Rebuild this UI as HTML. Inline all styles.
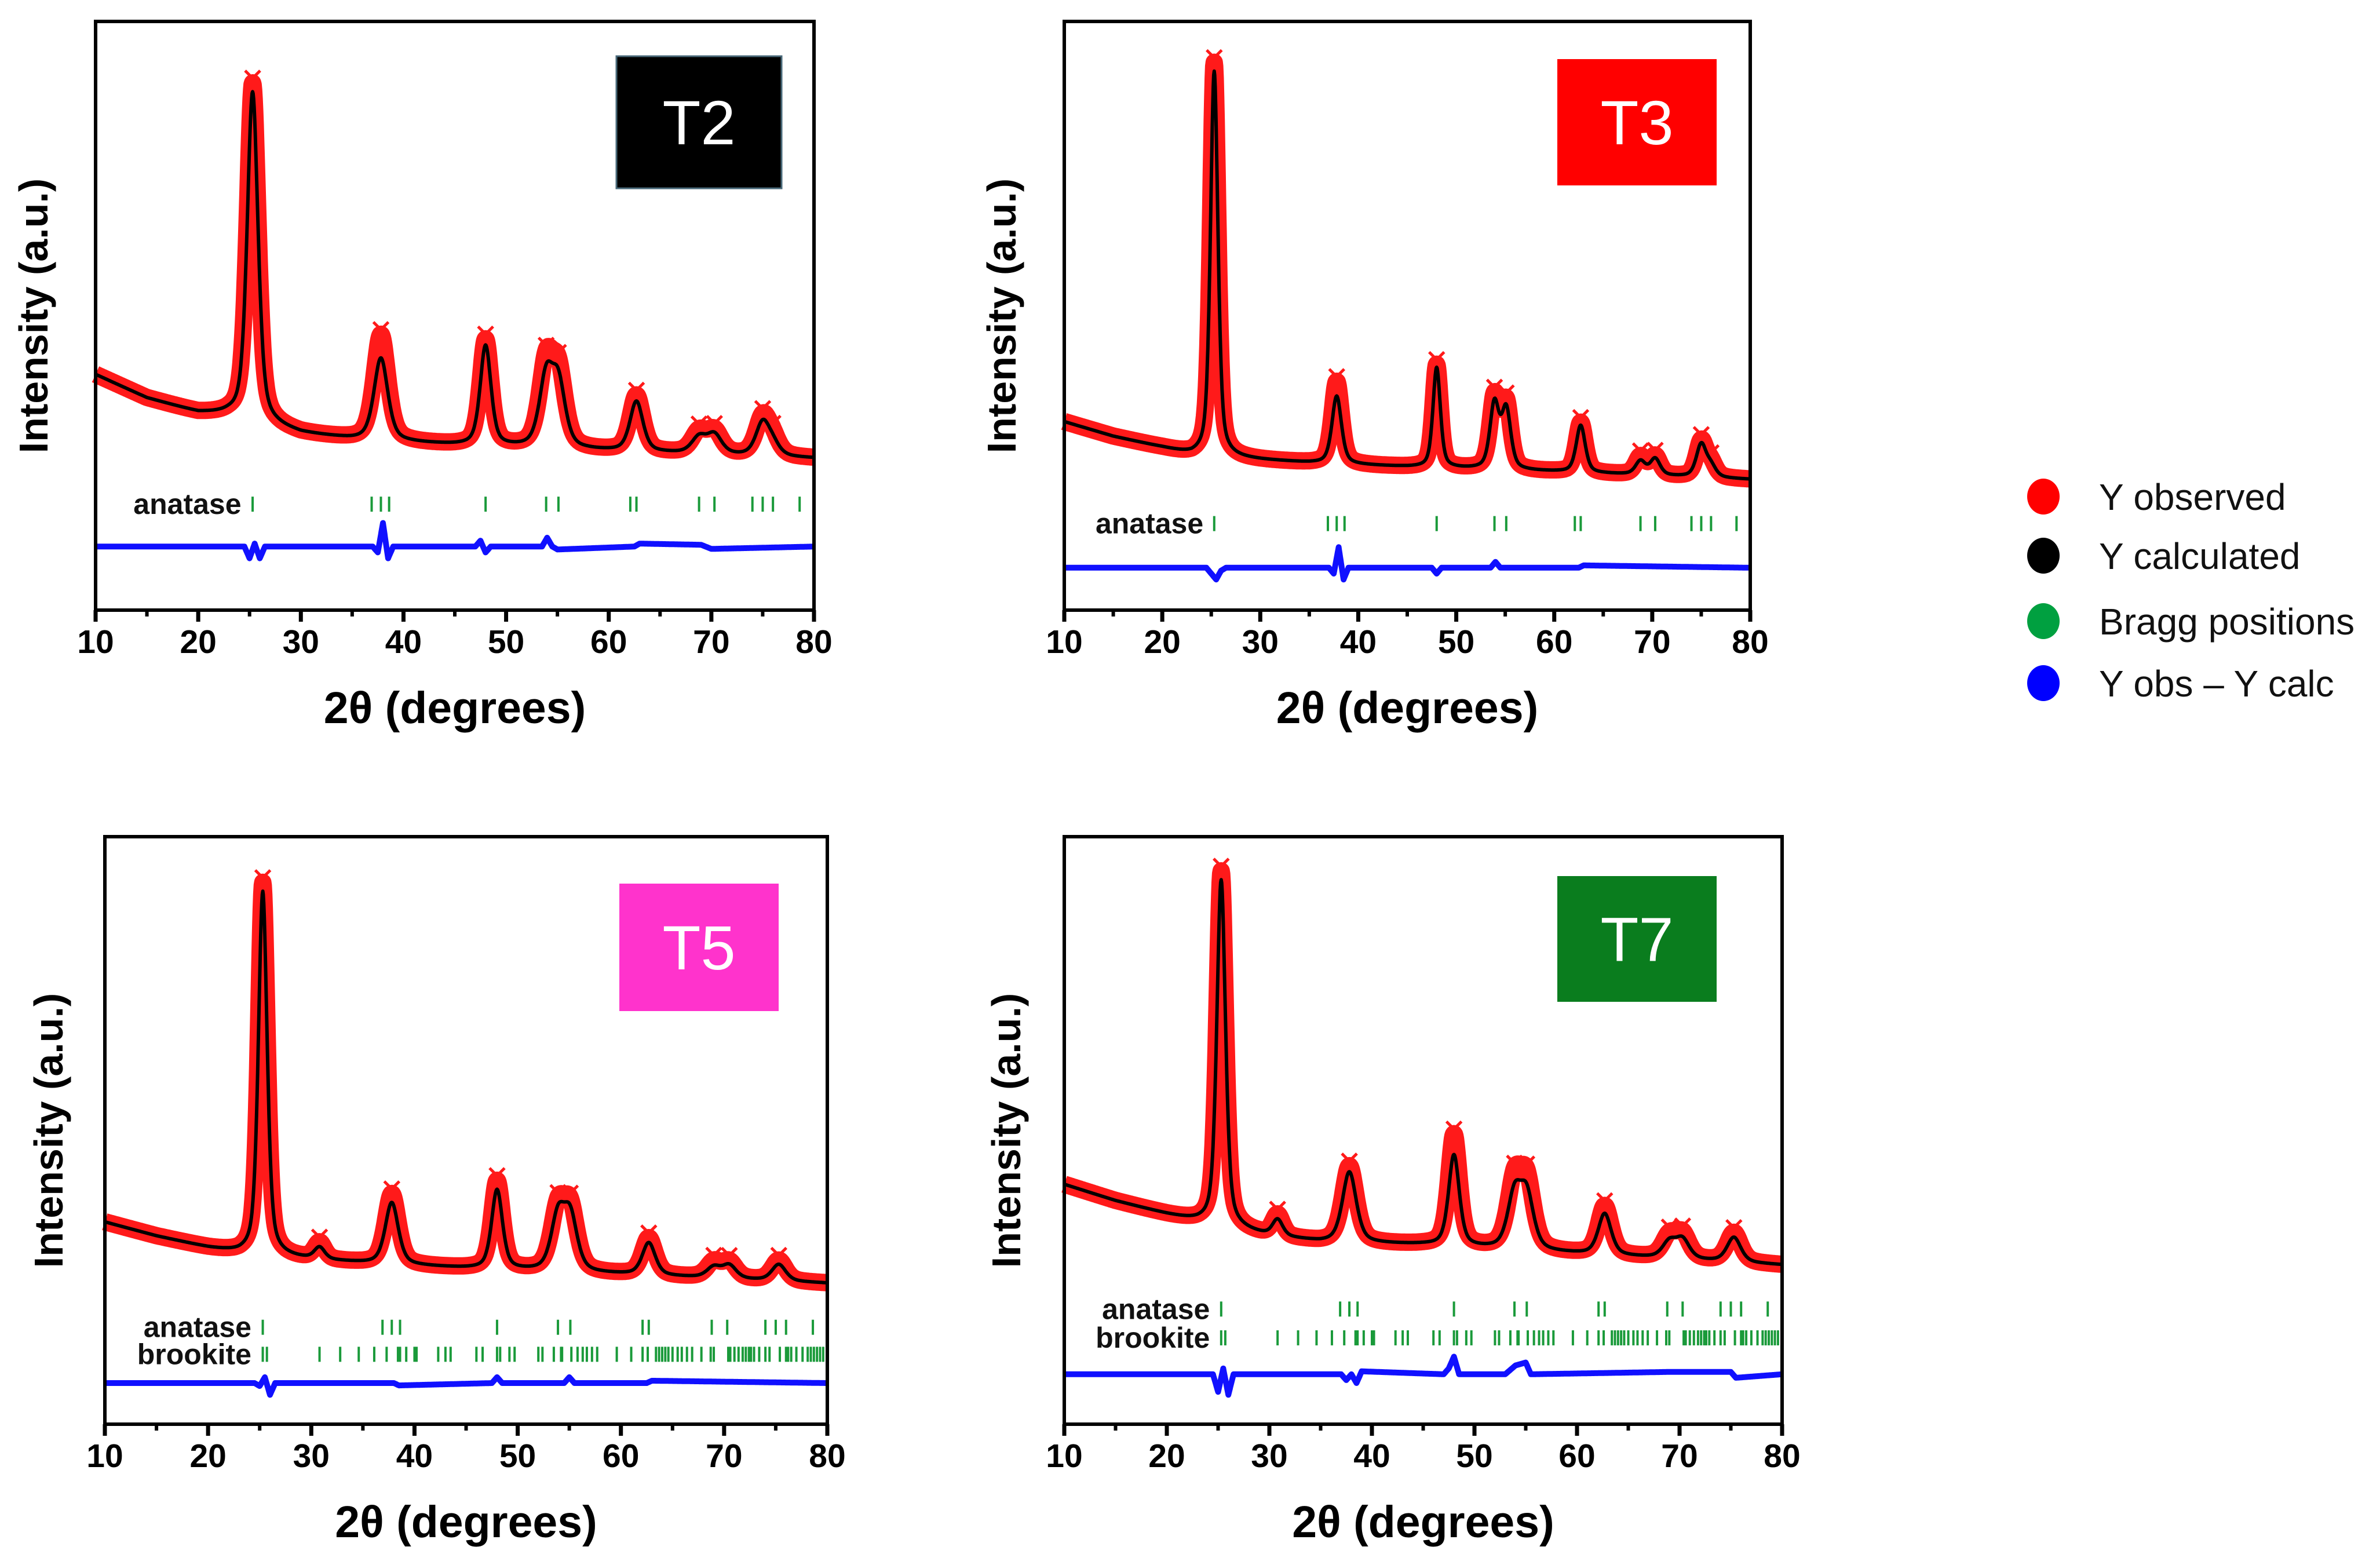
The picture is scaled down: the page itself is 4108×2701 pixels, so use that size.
<!DOCTYPE html>
<html><head><meta charset="utf-8"><style>
html,body{margin:0;padding:0;background:#fff}
svg{display:block}
text{font-family:"Liberation Sans",Arial,sans-serif}
</style></head><body>
<svg id="fig" width="4108" height="2701" viewBox="0 0 4108 2701" xmlns="http://www.w3.org/2000/svg">
<rect width="4108" height="2701" fill="#fff"/>
<g>
  <ellipse cx="3527" cy="857" rx="28" ry="31" fill="#ff0000"/>
  <text x="3623" y="880" font-size="64" fill="#111">Y observed</text>
  <ellipse cx="3527" cy="959" rx="28" ry="31" fill="#000"/>
  <text x="3623" y="982" font-size="64" fill="#111">Y calculated</text>
  <ellipse cx="3527" cy="1072" rx="28" ry="31" fill="#00a040"/>
  <text x="3623" y="1095" font-size="64" fill="#111">Bragg positions</text>
  <ellipse cx="3527" cy="1179" rx="28" ry="31" fill="#0000ff"/>
  <text x="3623" y="1202" font-size="64" fill="#111">Y obs – Y calc</text>
</g>
</svg>
<script>
// ---------- DATA (normalized intensity, 0 = bottom of frame, 1 = top) ----------
const xTicks = [10,20,30,40,50,60,70,80];
const anatasePos = [25.3,36.9,37.8,38.6,48.0,53.9,55.1,62.1,62.7,68.8,70.3,74.0,75.0,76.0,78.6];
const brookitePos = [25.3,25.7,30.8,32.8,34.6,36.1,37.3,38.4,38.6,39.2,40.0,40.2,42.3,43.0,43.5,46.0,46.6,48.0,48.3,49.2,49.7,52.0,52.4,53.5,54.2,54.3,55.2,55.8,56.3,56.7,57.2,57.7,59.6,61.0,62.1,62.6,63.4,63.7,64.0,64.3,64.6,65.0,65.5,65.9,66.4,66.9,67.8,68.7,69.0,70.4,70.6,71.0,71.4,71.8,72.1,72.4,72.6,72.9,73.4,74.0,74.4,75.4,76.0,76.2,76.5,77.0,77.6,78.1,78.4,78.7,79.0,79.3,79.6];

// T2
const t2BgX = [10,15,20,23,30,35,45,60,80];
const t2BgY = [0.40,0.36,0.335,0.33,0.30,0.29,0.28,0.27,0.258];
const t2PeakPos = [25.3,37.8,48.0,53.9,55.1,62.7,68.8,70.3,75.0,76.0];
const t2CalcH = [0.56,0.14,0.17,0.115,0.105,0.085,0.027,0.032,0.055,0.018];
const t2ObsH = [0.575,0.18,0.18,0.135,0.12,0.095,0.035,0.037,0.063,0.025];
const t2Width = [1.25,1.6,1.25,1.6,1.6,1.5,1.7,1.7,1.6,1.6];
const t2DiffX = [10,24.5,25,25.5,26,26.5,37,37.5,38,38.5,39,47,47.5,48,48.5,53.5,54,54.5,55,62.5,63,69,70,80];
const t2DiffY = [0,0,-0.02,0.005,-0.02,0,0,-0.01,0.04,-0.02,0,0,0.01,-0.01,0,0,0.015,0,-0.005,0,0.005,0.003,-0.004,0];
// T3
const t3BgX = [10,15,20,23,30,35,45,60,80];
const t3BgY = [0.32,0.295,0.276,0.263,0.255,0.25,0.243,0.235,0.222];
const t3PeakPos = [25.3,37.8,48.0,53.9,55.1,62.7,68.8,70.3,75.0,76.0];
const t3CalcH = [0.655,0.115,0.17,0.11,0.10,0.08,0.023,0.028,0.055,0.018];
const t3ObsH = [0.67,0.14,0.175,0.12,0.11,0.085,0.03,0.032,0.06,0.022];
const t3Width = [0.9,1.15,0.9,1.1,1.1,1.1,1.2,1.2,1.2,1.2];
const t3DiffX = [10,24.5,25,25.5,26,26.5,37,37.5,38,38.5,39,47.5,48,48.5,53.5,54,54.5,62.5,63,80];
const t3DiffY = [0,0,-0.01,-0.02,-0.005,0,0,-0.01,0.035,-0.02,0,0,-0.01,0,0,0.01,0,0,0.004,0];
// T5
const t5BgX = [10,15,20,23,30,35,45,60,80];
const t5BgY = [0.344,0.32,0.30,0.29,0.28,0.274,0.265,0.255,0.24];
const t5PeakPos = [25.3,30.8,37.8,48.0,53.9,55.1,62.7,69.0,70.5,75.3];
const t5CalcH = [0.62,0.02,0.105,0.135,0.09,0.09,0.055,0.018,0.022,0.028];
const t5ObsH = [0.635,0.028,0.12,0.15,0.10,0.10,0.063,0.026,0.027,0.035];
const t5Width = [1.0,1.2,1.5,1.25,1.6,1.6,1.5,1.6,1.6,1.6];
const t5DiffX = [10,24.5,25,25.5,26,26.5,38,38.5,47.5,48,48.5,54.5,55,55.5,62.5,63,80];
const t5DiffY = [0,0,-0.005,0.01,-0.02,0,0,-0.004,0,0.01,0,0,0.01,0,0,0.004,0];
// T7
const t7BgX = [10,15,20,23,30,35,45,60,80];
const t7BgY = [0.408,0.38,0.357,0.344,0.32,0.31,0.305,0.29,0.271];
const t7PeakPos = [25.3,30.8,37.8,48.0,53.9,55.1,62.7,69.0,70.3,75.3];
const t7CalcH = [0.59,0.028,0.12,0.155,0.09,0.09,0.07,0.027,0.032,0.042];
const t7ObsH = [0.605,0.036,0.13,0.19,0.11,0.11,0.083,0.036,0.04,0.05];
const t7Width = [1.0,1.2,1.6,1.25,1.6,1.6,1.5,1.6,1.6,1.6];
const t7DiffX = [10,24.5,25,25.5,26,26.5,37,37.5,38,38.5,39,47,47.5,48,48.5,49,53,54,55,55.5,69,75,75.5,80];
const t7DiffY = [0,0,-0.03,0.01,-0.035,0,0,-0.01,0.0,-0.015,0.005,0,0.01,0.03,0,0,0,0.015,0.02,0,0.004,0.004,-0.006,0];

// ---------- LAYOUT ----------
const panels = [
 {id:'t2', name:'T2', color:'#000000', x0:165,x1:1405,y0:37,y1:1053, box:[1064,97,285,228],
  bg:[t2BgX,t2BgY], pos:t2PeakPos, calc:t2CalcH, obs:t2ObsH, w:t2Width, diff:[t2DiffX,t2DiffY],
  phases:[['anatase',anatasePos,0.18]], diffBase:0.108, ytitleX:58},
 {id:'t3', name:'T3', color:'#ff0000', x0:1837,x1:3021,y0:37,y1:1053, box:[2688,102,275,218],
  bg:[t3BgX,t3BgY], pos:t3PeakPos, calc:t3CalcH, obs:t3ObsH, w:t3Width, diff:[t3DiffX,t3DiffY],
  phases:[['anatase',anatasePos,0.147]], diffBase:0.072, ytitleX:1729},
 {id:'t5', name:'T5', color:'#ff33cc', x0:181,x1:1428,y0:1444,y1:2458, box:[1069,1525,275,220],
  bg:[t5BgX,t5BgY], pos:t5PeakPos, calc:t5CalcH, obs:t5ObsH, w:t5Width, diff:[t5DiffX,t5DiffY],
  phases:[['anatase',anatasePos,0.165],['brookite',brookitePos,0.119]], diffBase:0.07, ytitleX:84},
 {id:'t7', name:'T7', color:'#0a7d1e', x0:1837,x1:3076,y0:1444,y1:2458, box:[2688,1512,275,217],
  bg:[t7BgX,t7BgY], pos:t7PeakPos, calc:t7CalcH, obs:t7ObsH, w:t7Width, diff:[t7DiffX,t7DiffY],
  phases:[['anatase',anatasePos,0.196],['brookite',brookitePos,0.147]], diffBase:0.085, ytitleX:1737}
];
const NS='http://www.w3.org/2000/svg';
const svg=document.getElementById('fig');
function mk(tag,attrs,parent){const e=document.createElementNS(NS,tag);for(const k in attrs)e.setAttribute(k,attrs[k]);parent.appendChild(e);return e;}
function interp(xs,ys,x){if(x<=xs[0])return ys[0];for(let i=1;i<xs.length;i++){if(x<=xs[i]){const t=(x-xs[i-1])/(xs[i]-xs[i-1]);return ys[i-1]+t*(ys[i]-ys[i-1]);}}return ys[ys.length-1];}
function profile(x,pos,h,w){let s=0;for(let i=0;i<pos.length;i++){const d=(x-pos[i])/w[i];const q=4*d*d;s+=h[i]*(0.5/(1+q)+0.5*Math.exp(-Math.LN2*q));}return s;}

panels.forEach(p=>{
  const g=mk('g',{},svg);
  
  
  const sx=v=>p.x0+(v-10)/70*(p.x1-p.x0);
  const sy=v=>p.y1-v*(p.y1-p.y0);
  const xs=[];for(let x=10;x<=80.0001;x+=0.05)xs.push(x);
  const bg=x=>interp(p.bg[0],p.bg[1],x);
  const obsPts=xs.map(x=>sx(x).toFixed(1)+','+sy(bg(x)+profile(x,p.pos,p.obs,p.w)).toFixed(1)).join(' ');
  const calcPts=xs.map(x=>sx(x).toFixed(1)+','+sy(bg(x)+profile(x,p.pos,p.calc,p.w)).toFixed(1)).join(' ');
  const obs=mk('polyline',{points:obsPts,fill:'none',stroke:'#ff1a1a','stroke-width':30,'stroke-linejoin':'round','stroke-linecap':'butt'},g);
  
  
  p.pos.forEach((pp,i)=>{
    const cx=sx(pp), cy=sy(bg(pp)+profile(pp,p.pos,p.obs,p.w))-8;
    const m=mk('path',{d:`M${cx-13},${cy-13}L${cx+13},${cy+13}M${cx+13},${cy-13}L${cx-13},${cy+13}`,stroke:'#ff1a1a','stroke-width':5},g);
    
    
  });
  const calc=mk('polyline',{points:calcPts,fill:'none',stroke:'#000','stroke-width':6,'stroke-linejoin':'round'},g);
  
  
  p.phases.forEach(ph=>{
    const yc=sy(ph[2]);
    ph[1].forEach(b=>{
      const t=mk('line',{x1:sx(b),x2:sx(b),y1:yc-13,y2:yc+13,stroke:'#1a9a3a','stroke-width':4},g);
      
      
    });
    const lb=mk('text',{x:sx(24.2),y:yc+17,'font-size':50,'font-weight':'bold','text-anchor':'end',fill:'#111'},g);
    lb.textContent=ph[0];
    
    
  });
  const dPts=xs.map(x=>sx(x).toFixed(1)+','+sy(p.diffBase+interp(p.diff[0],p.diff[1],x)).toFixed(1)).join(' ');
  const d=mk('polyline',{points:dPts,fill:'none',stroke:'#1010ff','stroke-width':10,'stroke-linejoin':'round'},g);
  
  
  const fr=mk('rect',{x:p.x0,y:p.y0,width:p.x1-p.x0,height:p.y1-p.y0,fill:'none',stroke:'#000','stroke-width':6},g);
  
  
  for(let v=10;v<=80;v+=5){
    const major=v%10===0;
    const t=mk('line',{x1:sx(v),x2:sx(v),y1:p.y1,y2:p.y1+(major?20:11),stroke:'#000','stroke-width':major?7:6},g);
    
    
  }
  xTicks.forEach(v=>{
    const t=mk('text',{x:sx(v),y:p.y1+74,'font-size':57,'font-weight':'bold','text-anchor':'middle',fill:'#000'},g);
    t.textContent=v;
    
    
  });
  const xt=mk('text',{x:(p.x0+p.x1)/2,y:p.y1+195,'font-size':77,'font-weight':'bold','text-anchor':'middle',fill:'#000'},g);
  xt.textContent='2θ (degrees)';
  
  
  const ycy=(p.y0+p.y1)/2;
  const yt=mk('text',{x:p.ytitleX+24,y:ycy,'font-size':70,'font-weight':'bold','text-anchor':'middle',fill:'#000',transform:`rotate(-90 ${p.ytitleX+24} ${ycy})`},g);
  yt.textContent='Intensity (a.u.)';
  
  
  const b=p.box;
  const r=mk('rect',{x:b[0],y:b[1],width:b[2],height:b[3],fill:p.color,stroke:p.id==='t2'?'#4a6a7a':'none','stroke-width':3},g);
  
  
  const lt=mk('text',{x:b[0]+b[2]/2,y:b[1]+b[3]/2+38,'font-size':108,'text-anchor':'middle',fill:'#fff'},g);
  lt.textContent=p.name;
  
  
});
</script>
</body></html>
